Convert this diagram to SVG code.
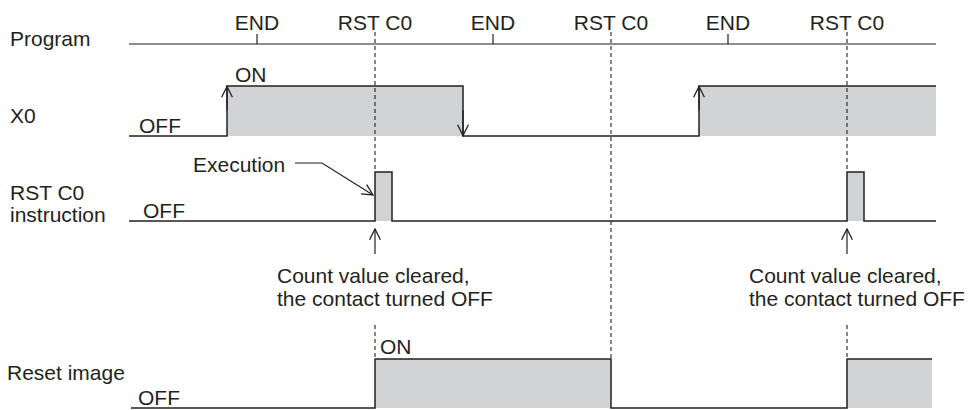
<svg xmlns="http://www.w3.org/2000/svg" width="969" height="410" viewBox="0 0 969 410">
<defs>
<style>
text{font-family:"Liberation Sans",Arial,sans-serif;font-size:21px;fill:#231f20}
.mid{text-anchor:middle}
.ln{fill:none;stroke:#231f20;stroke-width:1.5}
.thin{fill:none;stroke:#231f20;stroke-width:1.2}
.dash{fill:none;stroke:#231f20;stroke-width:1.1;stroke-dasharray:4 3}
.fill{fill:#d1d3d4;stroke:none}
</style>
<marker id="oa" viewBox="0 0 12 12" refX="11" refY="6" markerWidth="13" markerHeight="13" markerUnits="userSpaceOnUse" orient="auto">
<path d="M1,1 L11,6 L1,11" fill="none" stroke="#231f20" stroke-width="1.2"/>
</marker>
</defs>
<rect width="969" height="410" fill="#fff"/>

<g id="labels">
<text x="10" y="46">Program</text>
<text x="10" y="123">X0</text>
<text x="10" y="200">RST C0</text>
<text x="10" y="222">instruction</text>
<text x="7" y="380">Reset image</text>
</g>

<g id="program">
<line class="thin" x1="129" y1="44" x2="936" y2="44"/>
<line class="thin" x1="257" y1="34" x2="257" y2="44"/>
<line class="thin" x1="493" y1="34" x2="493" y2="44"/>
<line class="thin" x1="728" y1="34" x2="728" y2="44"/>
<text class="mid" x="257" y="30">END</text>
<text class="mid" x="375" y="30">RST C0</text>
<text class="mid" x="493" y="30">END</text>
<text class="mid" x="611" y="30">RST C0</text>
<text class="mid" x="728" y="30">END</text>
<text class="mid" x="847" y="30">RST C0</text>
</g>

<g id="x0">
<rect class="fill" x="227" y="86" width="236" height="50"/>
<rect class="fill" x="699" y="86" width="237" height="50"/>
<polyline class="ln" points="129,136 227,136 227,86 463,86 463,136 699,136 699,86 936,86"/>
<text x="235" y="82">ON</text>
<text x="139" y="133">OFF</text>
</g>

<g id="rst">
<rect class="fill" x="375" y="172" width="17" height="49"/>
<rect class="fill" x="847" y="172" width="17" height="49"/>
<polyline class="ln" points="129,221 375,221 375,172 392,172 392,221 847,221 847,172 864,172 864,221 936,221"/>
<text x="143" y="218">OFF</text>
<text x="193" y="172">Execution</text>
</g>

<g id="notes">
<text x="277" y="283">Count value cleared,</text>
<text x="277" y="306">the contact turned OFF</text>
<text x="749" y="283">Count value cleared,</text>
<text x="749" y="306">the contact turned OFF</text>
</g>

<g id="reset">
<rect class="fill" x="375" y="359" width="236" height="49"/>
<rect class="fill" x="847" y="359" width="85" height="49"/>
<polyline class="ln" points="131,408 375,408 375,359 611,359 611,408 847,408 847,359 932,359"/>
<text x="380" y="354">ON</text>
<text x="138" y="405">OFF</text>
</g>

<g id="connectors">
<line class="dash" x1="375" y1="32" x2="375" y2="172"/>
<line class="dash" x1="611" y1="32" x2="611" y2="359"/>
<line class="dash" x1="847" y1="32" x2="847" y2="172"/>
<line class="dash" x1="375" y1="325" x2="375" y2="359"/>
<line class="dash" x1="847" y1="325" x2="847" y2="359"/>
<line class="thin" x1="227" y1="110" x2="227" y2="86.5" marker-end="url(#oa)"/>
<line class="thin" x1="463" y1="110" x2="463" y2="135.5" marker-end="url(#oa)"/>
<line class="thin" x1="699" y1="110" x2="699" y2="86.5" marker-end="url(#oa)"/>
<polyline class="thin" points="295,163 322,163 373,195" marker-end="url(#oa)"/>
<line class="thin" x1="375" y1="254" x2="375" y2="229" marker-end="url(#oa)"/>
<line class="thin" x1="847" y1="254" x2="847" y2="229" marker-end="url(#oa)"/>
</g>
</svg>
